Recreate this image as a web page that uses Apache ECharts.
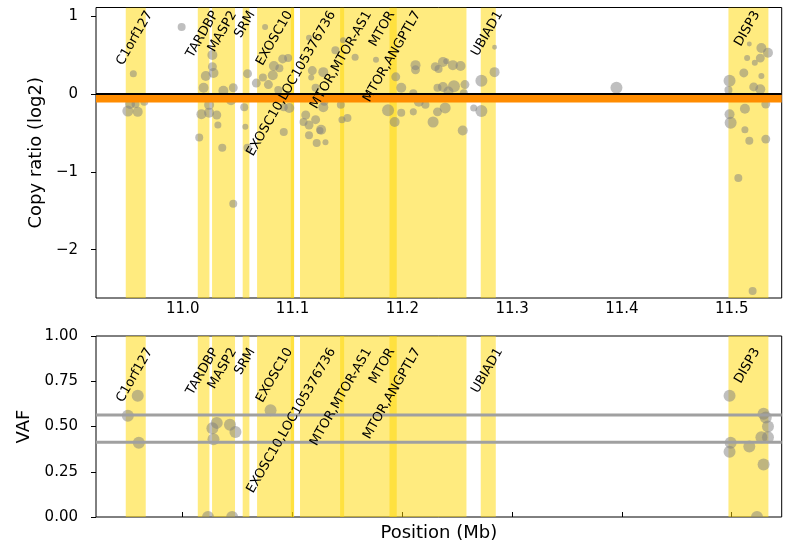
<!DOCTYPE html>
<html><head><meta charset="utf-8">
<script src="https://cdn.jsdelivr.net/npm/echarts@6/dist/echarts.min.js"></script>
<style>html,body{margin:0;padding:0;background:#fff}#c{width:791px;height:551px}</style>
</head><body><div id="c"></div>
<script>
// ---------- data ----------
const xTicks = [11.0, 11.1, 11.2, 11.3, 11.4, 11.5];
const crTicks = [-2, -1, 0, 1];
const vafTicks = [0, 0.25, 0.5, 0.75, 1];
const xRange = [10.921, 11.5455];
const crRange = [-2.62, 1.11];
const vafRange = [0, 1];

const geneNames = ['C1orf127', 'TARDBP', 'MASP2', 'SRM', 'EXOSC10', 'EXOSC10,LOC105376736',
  'MTOR,MTOR-AS1', 'MTOR', 'MTOR,ANGPTL7', 'UBIAD1', 'DISP3'];
const geneStart = [10.9481, 11.0137, 11.0267, 11.0546, 11.0677, 11.0984, 11.1433, 11.1068, 11.1883, 11.2714, 11.4970];
const geneEnd   = [10.9663, 11.0243, 11.0476, 11.0607, 11.1014, 11.1014, 11.1470, 11.2584, 11.1949, 11.2851, 11.5334];

// copy-ratio bins: position (Mb), log2 ratio, weight (0..1)
const crPos = [10.999,10.955,10.950,10.959,10.952,10.957,10.965,10.950,
  11.027,11.027,11.021,11.028,11.019,11.037,11.046,11.044,11.024,11.017,11.024,11.031,11.032,11.015,11.036,11.046,
  11.059,11.056,11.057,11.059,
  11.067,11.075,11.083,11.091,11.096,11.088,11.082,11.073,11.078,11.087,11.097,11.092,11.092,
  11.115,11.118,11.128,11.117,11.139,11.146,11.157,11.121,11.128,11.129,11.112,11.121,11.110,11.115,11.126,11.125,11.115,11.122,11.130,
  11.144,11.145,11.150,11.176,11.187,11.193,11.194,11.199,11.199,11.210,11.212,11.212,11.215,11.221,11.210,
  11.228,11.232,11.239,11.230,11.233,11.237,11.240,11.246,11.253,11.232,11.237,11.242,11.247,11.257,11.256,11.255,
  11.272,11.272,11.265,11.284,11.284,11.395,
  11.516,11.527,11.533,11.526,11.514,11.521,11.511,11.527,11.498,11.520,11.526,11.497,11.531,11.512,11.498,11.499,11.512,11.516,11.531,11.506,11.519];
const crLog2 = [0.86,0.26,-0.22,-0.23,-0.13,-0.13,-0.10,-0.04,
  0.50,0.35,0.23,0.27,0.08,0.04,0.08,-0.08,-0.14,-0.26,-0.24,-0.27,-0.40,-0.56,-0.69,-1.41,
  0.26,-0.17,-0.42,-0.69,
  0.14,0.86,0.36,0.45,0.46,0.33,0.24,0.21,0.12,0.05,-0.18,-0.17,-0.49,
  0.72,0.30,0.28,0.21,0.56,0.69,0.47,0.08,-0.17,-0.10,-0.27,-0.33,-0.36,-0.40,-0.46,-0.47,-0.53,-0.63,-0.62,
  -0.14,-0.33,-0.31,0.44,-0.21,-0.36,0.22,0.08,-0.24,-0.23,0.37,0.31,-0.10,-0.14,0.01,
  -0.36,-0.23,-0.18,0.35,0.32,0.41,0.42,0.37,0.36,0.08,0.09,0.03,0.10,0.12,0.01,-0.47,
  0.17,-0.22,-0.18,0.28,0.60,0.08,
  0.64,0.59,0.53,0.46,0.46,0.40,0.27,0.23,0.17,0.09,0.06,0.05,-0.13,-0.19,-0.26,-0.37,-0.46,-0.60,-0.58,-1.08,-2.53];
const crWeight = [0.5,0.38,0.88,0.75,0.75,0.5,0.5,0.5,
  0.75,0.62,0.75,0.75,0.75,0.75,0.62,0.75,0.75,0.75,0.75,0.62,0.38,0.5,0.5,0.5,
  0.62,0.5,0.25,0.5,
  0.62,0.25,0.75,0.62,0.5,0.5,0.75,0.5,0.62,0.5,0.75,0.5,0.5,
  0.25,0.62,0.75,0.25,0.5,0.25,0.38,0.5,0.75,0.5,0.62,0.62,0.5,0.62,0.75,0.38,0.5,0.5,0.25,
  0.5,0.38,0.5,0.25,1.0,0.75,0.62,0.75,0.5,0.38,0.75,0.62,0.75,0.5,0.5,
  0.88,0.62,0.88,0.62,0.5,0.75,0.25,0.75,0.75,0.5,0.75,0.75,1.0,0.62,0.5,0.75,
  1.0,1.0,0.38,0.75,0.12,1.0,
  0.12,0.75,0.75,0.62,0.25,0.25,0.62,0.25,1.0,0.62,0.75,0.5,0.62,0.75,0.75,1.0,0.38,0.5,0.62,0.5,0.5];

// variant allele frequencies
const vafPos = [10.959,10.950,10.960,11.031,11.027,11.043,11.048,11.028,11.023,11.045,11.080,
  11.498,11.499,11.498,11.516,11.529,11.531,11.533,11.527,11.533,11.529,11.523];
const vafVal = [0.67,0.56,0.41,0.52,0.49,0.51,0.47,0.43,0.0,0.0,0.59,
  0.67,0.41,0.36,0.39,0.57,0.55,0.50,0.44,0.44,0.29,0.0];

const zeroLine = 0;
const segmentLog2 = -0.06;
const vafRefLines = [0.563, 0.413];
const geneLabelAnchor = [1.08, 0.94]; // label top, in data units of each panel

// ---------- chart ----------
const FONT = 'DejaVu Sans';
const chart = echarts.init(document.getElementById('c'), null, {renderer: 'canvas'});
const ctx = document.createElement('canvas').getContext('2d');
const LFS = 13;
ctx.font = LFS + 'px "' + FONT + '"';
const ANG = Math.PI / 3;

function bandSeries(gi) {
  return {
    type: 'custom', xAxisIndex: gi, yAxisIndex: gi, clip: true, silent: true, z: 1,
    encode: {x: [0, 1]},
    data: geneNames.map((n, i) => [geneStart[i], geneEnd[i]]),
    renderItem(params, api) {
      const cs = params.coordSys;
      const y0 = gi === 0 ? 0 : 0.5;
      const a = api.coord([api.value(0), y0])[0];
      const b = api.coord([api.value(1), y0])[0];
      return {type: 'rect', shape: {x: a, y: cs.y, width: b - a, height: cs.height},
        style: {fill: 'rgba(255,215,0,0.5)'}};
    }
  };
}
function labelSeries(gi) {
  return {
    type: 'custom', xAxisIndex: gi, yAxisIndex: gi, silent: true, z: 6,
    encode: {x: 0, y: 1},
    data: geneNames.map((n, i) => [(geneStart[i] + geneEnd[i]) / 2, geneLabelAnchor[gi]]),
    renderItem(params, api) {
      const p = api.coord([api.value(0), api.value(1)]);
      const txt = geneNames[params.dataIndex];
      const L = ctx.measureText(txt).width;
      const inkH = L * Math.sin(ANG) + 0.73 * LFS * Math.cos(ANG);
      return {type: 'text', x: p[0] - 1, y: p[1] + inkH / 2, rotation: ANG,
        style: {text: txt, fontSize: LFS, fontFamily: FONT, fill: '#000', align: 'center', verticalAlign: 'middle'}};
    }
  };
}
function hLine(gi, val, color, width, z) {
  return {type: 'line', xAxisIndex: gi, yAxisIndex: gi, silent: true, z: z, symbol: 'none',
    data: [[xRange[0], val], [xRange[1], val]], lineStyle: {color: color, width: width}, animation: false};
}

const tickStyle = {lineStyle: {color: '#000', width: 1}, length: 5, inside: false};
const lblStyle = {color: '#000', fontSize: 15, fontFamily: FONT};
const nameStyle = {color: '#000', fontSize: 18, fontFamily: FONT};

const option = {
  animation: false,
  textStyle: {fontFamily: FONT},
  grid: [
    {left: 96, right: 9.3, top: 7.5, height: 290.5, show: true, borderColor: '#000', borderWidth: 1, backgroundColor: 'transparent'},
    {left: 96, right: 9.3, top: 336, height: 181, show: true, borderColor: '#000', borderWidth: 1, backgroundColor: 'transparent'}
  ],
  xAxis: [
    {gridIndex: 0, type: 'value', min: xRange[0], max: xRange[1], position: 'bottom',
      axisLine: {show: false}, splitLine: {show: false},
      axisTick: Object.assign({show: true, customValues: xTicks}, tickStyle),
      axisLabel: Object.assign({show: true, customValues: xTicks, margin: 4, formatter: v => Number(v).toFixed(1)}, lblStyle)},
    {gridIndex: 1, type: 'value', min: xRange[0], max: xRange[1], position: 'top',
      axisLine: {show: false}, splitLine: {show: false},
      axisTick: Object.assign({show: true, customValues: xTicks}, tickStyle),
      axisLabel: {show: false, customValues: xTicks}},
    {gridIndex: 1, type: 'value', min: xRange[0], max: xRange[1], position: 'bottom',
      axisLine: {show: false}, splitLine: {show: false}, axisTick: {show: false}, axisLabel: {show: false},
      name: 'Position (Mb)', nameLocation: 'middle', nameGap: 7, nameTextStyle: nameStyle}
  ],
  yAxis: [
    {gridIndex: 0, type: 'value', min: crRange[0], max: crRange[1],
      axisLine: {show: false}, splitLine: {show: false},
      axisTick: Object.assign({show: true, customValues: crTicks}, tickStyle),
      axisLabel: Object.assign({show: true, customValues: crTicks, margin: 18,
        formatter: v => (v < 0 ? '\u2212' : '') + Math.abs(v)}, lblStyle),
      name: 'Copy ratio (log2)', nameLocation: 'middle', nameGap: 50, nameRotate: 90, nameTextStyle: nameStyle},
    {gridIndex: 1, type: 'value', min: vafRange[0], max: vafRange[1],
      axisLine: {show: false}, splitLine: {show: false},
      axisTick: Object.assign({show: true, customValues: vafTicks}, tickStyle),
      axisLabel: Object.assign({show: true, customValues: vafTicks, margin: 18,
        formatter: v => Number(v).toFixed(2)}, lblStyle),
      name: 'VAF', nameLocation: 'middle', nameGap: 50, nameRotate: 90, nameTextStyle: nameStyle}
  ],
  series: [
    bandSeries(0),
    bandSeries(1),
    {type: 'custom', xAxisIndex: 0, yAxisIndex: 0, clip: true, silent: true, z: 2,
      encode: {x: 0, y: 1},
      data: crPos.map((x, i) => [x, crLog2[i], crWeight[i]]),
      renderItem(params, api) {
        const p = api.coord([api.value(0), api.value(1)]);
        return {type: 'circle', shape: {cx: p[0], cy: p[1], r: 2 + 4 * api.value(2)},
          style: {fill: 'rgba(128,128,128,0.5)'}};
      }},
    {type: 'custom', xAxisIndex: 1, yAxisIndex: 1, clip: true, silent: true, z: 2,
      encode: {x: 0, y: 1},
      data: vafPos.map((x, i) => [x, vafVal[i]]),
      renderItem(params, api) {
        const p = api.coord([api.value(0), api.value(1)]);
        return {type: 'circle', shape: {cx: p[0], cy: p[1], r: 6},
          style: {fill: 'rgba(128,128,128,0.5)'}};
      }},
    hLine(0, segmentLog2, '#ff8c00', 8, 4),
    hLine(0, zeroLine, '#000000', 2, 5),
    hLine(1, vafRefLines[0], '#a0a0a0', 3, 4),
    hLine(1, vafRefLines[1], '#a0a0a0', 3, 4),
    labelSeries(0),
    labelSeries(1)
  ]
};
chart.setOption(option);
</script>
</body></html>
